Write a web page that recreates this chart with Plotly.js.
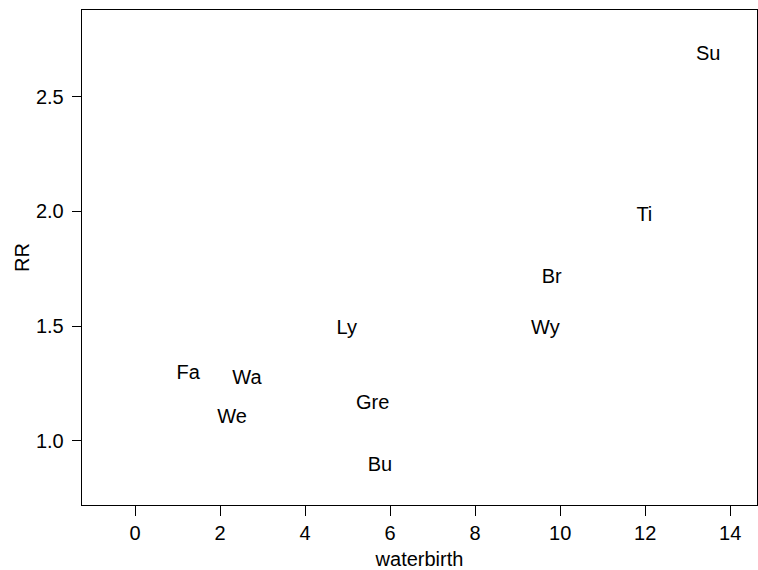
<!DOCTYPE html>
<html><head><meta charset="utf-8">
<script src="https://cdn.plot.ly/plotly-3.0.1.min.js"></script>
<style>html,body{margin:0;padding:0;background:#fff}#chart{width:758px;height:570px}</style>
</head><body><div id="chart"></div>
<script>
const labels = ["Su","Ti","Br","Wy","Ly","Fa","Wa","We","Gre","Bu"];
const waterbirth = [13.48, 11.98, 9.8, 9.65, 4.98, 1.25, 2.63, 2.28, 5.59, 5.76];
const RR = [2.68, 1.98, 1.71, 1.49, 1.49, 1.29, 1.27, 1.1, 1.16, 0.89];
const xTicks = [0,2,4,6,8,10,12,14];
const yTicks = [1.0,1.5,2.0,2.5];

const font = {family: 'Liberation Sans, Arial, sans-serif', size: 20, color: '#000'};
const trace = {
  x: waterbirth, y: RR, text: labels, mode: 'text', type: 'scatter',
  textposition: 'middle center',
  textfont: font,
  hoverinfo: 'none'
};
const layout = {
  width: 758, height: 570,
  margin: {l: 82, r: 1, t: 10, b: 65},
  paper_bgcolor: '#fff', plot_bgcolor: '#fff',
  font: font,
  showlegend: false,
  xaxis: {
    range: [-1.25, 14.63], tickvals: xTicks, ticktext: xTicks.map(String),
    showgrid: false, zeroline: false, showline: true, mirror: true,
    linecolor: '#000', linewidth: 1.3, ticks: 'outside', ticklen: 10, tickcolor: '#000',
    tickfont: font,
    title: {text: 'waterbirth', font: font, standoff: 13}
  },
  yaxis: {
    range: [0.721, 2.878], tickvals: yTicks, ticktext: yTicks.map(v => v.toFixed(1)),
    showgrid: false, zeroline: false, showline: true, mirror: true,
    linecolor: '#000', linewidth: 1.3, ticks: 'outside', ticklen: 9, tickcolor: '#000',
    tickfont: font, ticklabelstandoff: 4,
    title: {text: 'RR', font: font, standoff: 1}
  }
};
Plotly.newPlot('chart', [trace], layout, {displayModeBar: false, staticPlot: true});
</script></body></html>
